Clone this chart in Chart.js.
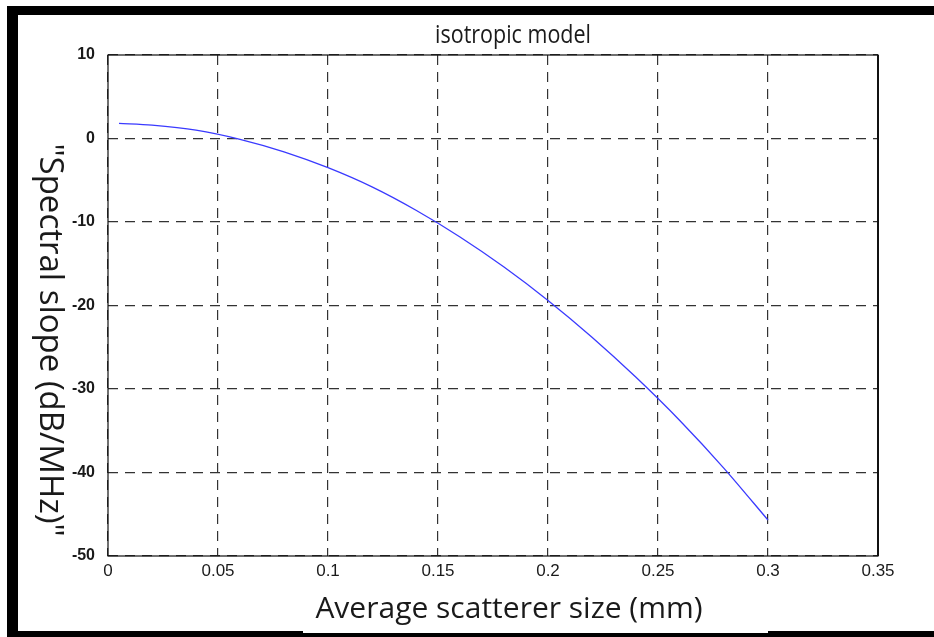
<!DOCTYPE html>
<html>
<head>
<meta charset="utf-8">
<script src="https://cdn.jsdelivr.net/npm/chart.js@4.4.1/dist/chart.umd.min.js"></script>
<style>
  html, body { margin: 0; padding: 0; background: #fff; overflow: hidden; }
  canvas { display: block; }
</style>
</head>
<body>
<canvas id="chart" width="934" height="637"></canvas>
<script>
// scatterer size (mm) and the spectral slope it gives
const sizes = [0.005, 0.02, 0.04, 0.06, 0.08, 0.10, 0.12, 0.14, 0.16, 0.18, 0.20, 0.22, 0.24, 0.26, 0.28, 0.30];
const slopes = [1.8, 1.6, 1.0, -0.1, -1.6, -3.5, -5.8, -8.6, -11.8, -15.4, -19.4, -23.8, -28.6, -33.8, -39.5, -45.7];

const xTicks = [0, 0.05, 0.1, 0.15, 0.2, 0.25, 0.3, 0.35];
const yTicks = [10, 0, -10, -20, -30, -40, -50];

const chartTitle = "isotropic model";
const xTitle = "Average scatterer size (mm)";
const yTitle = "\"Spectral slope (dB/MHz)\"";

const points = sizes.map((s, i) => ({ x: s, y: slopes[i] }));

// white page with the black frame round it, plus titles and plot box
const framePlugin = {
    id: "frame",
    beforeDraw(chart) {
        const ctx = chart.ctx;
        ctx.save();
        ctx.fillStyle = "#fff";
        ctx.fillRect(0, 0, chart.width, chart.height);
        ctx.fillStyle = "#000";
        ctx.fillRect(7, 6, chart.width - 7, 9);
        ctx.fillRect(7, 6, 11, chart.height - 6);
        ctx.fillRect(7, 631, chart.width - 7, 6);
        ctx.fillStyle = "#fff";
        ctx.fillRect(303, 596, 465, 37);
        ctx.restore();
    },
    afterDraw(chart) {
        const ctx = chart.ctx;
        const a = chart.chartArea;
        ctx.save();
        ctx.strokeStyle = "#111";
        ctx.lineWidth = 1.2;
        ctx.strokeRect(a.left, a.top, a.right - a.left, a.bottom - a.top);
        ctx.lineWidth = 2;
        ctx.beginPath();
        ctx.moveTo(a.right, a.top);
        ctx.lineTo(a.right, a.bottom);
        ctx.stroke();

        ctx.fillStyle = "#1a1a1a";
        ctx.textAlign = "center";
        ctx.textBaseline = "alphabetic";
        ctx.font = "30px 'Open Sans'";
        ctx.fillText(xTitle, 509, 618);

        // title is a little narrow
        ctx.save();
        ctx.translate(513, 43);
        ctx.scale(0.86, 1);
        ctx.font = "25px 'Open Sans'";
        ctx.fillText(chartTitle, 0, 0);
        ctx.restore();

        // y title reads downwards
        ctx.translate(40, 340);
        ctx.rotate(Math.PI / 2);
        ctx.font = "33px 'Open Sans'";
        ctx.fillText(yTitle, 0, 0);
        ctx.restore();
    }
};

new Chart(document.getElementById("chart"), {
    type: "line",
    data: {
        datasets: [{
            data: points,
            borderColor: "#3a3aff",
            borderWidth: 1.3,
            pointRadius: 0,
            tension: 0.3,
            fill: false
        }]
    },
    options: {
        responsive: false,
        animation: false,
        layout: { padding: { left: 60, right: 56, top: 55, bottom: 51 } },
        plugins: { legend: { display: false }, tooltip: { enabled: false } },
        scales: {
            x: {
                type: "linear",
                min: 0,
                max: 0.35,
                afterBuildTicks(scale) { scale.ticks = xTicks.map(v => ({ value: v })); },
                afterFit(scale) { scale.height = 30; },
                grid: { color: "#333", lineWidth: 1.2, drawTicks: false },
                border: { display: false, dash: [10, 7] },
                ticks: {
                    padding: 5,
                    color: "#1a1a1a",
                    font: { family: "'Liberation Sans'", size: 17 },
                    maxRotation: 0,
                    callback: v => String(v)
                }
            },
            y: {
                type: "linear",
                min: -50,
                max: 10,
                afterBuildTicks(scale) { scale.ticks = yTicks.map(v => ({ value: v })); },
                afterFit(scale) { scale.width = 48; },
                grid: { color: "#333", lineWidth: 1.2, drawTicks: false },
                border: { display: false, dash: [10, 7] },
                ticks: {
                    padding: 13,
                    color: "#1a1a1a",
                    font: { family: "'Liberation Sans'", size: 16, weight: "bold" },
                    callback: v => String(v)
                }
            }
        }
    },
    plugins: [framePlugin]
});
</script>
</body>
</html>
